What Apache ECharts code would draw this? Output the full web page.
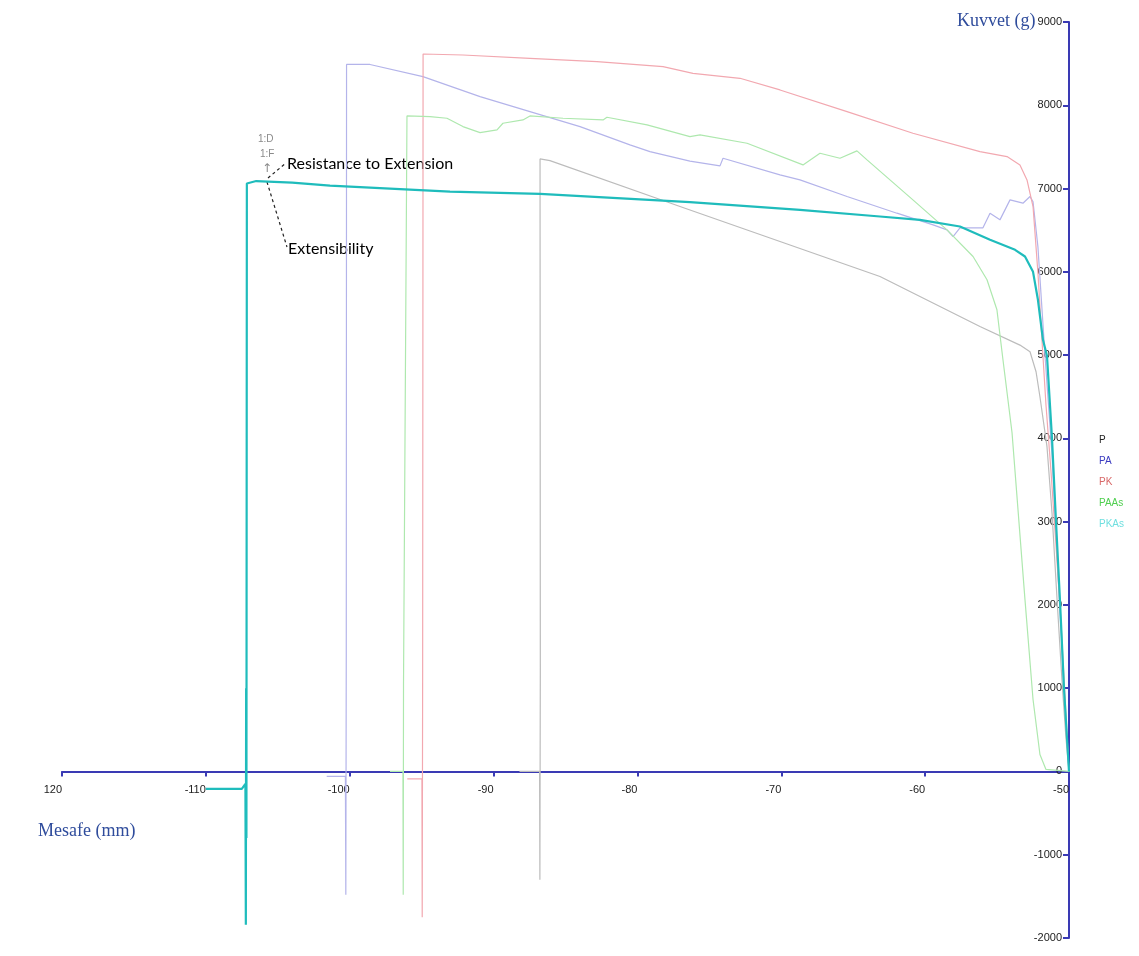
<!DOCTYPE html>
<html>
<head>
<meta charset="utf-8">
<script src="https://cdn.jsdelivr.net/npm/echarts@6/dist/echarts.min.js"></script>
<style>
html,body{margin:0;padding:0;background:#fff;}
#chart{width:1139px;height:956px;}
</style>
</head>
<body>
<div id="chart"></div>
<script>
// Tick labels as printed in the reference
var xTickLabels = ['120', '-110', '-100', '-90', '-80', '-70', '-60', '-50'];
var seriesNames = ['P', 'PA', 'PK', 'PAAs', 'PKAs'];

// P (gray)
var pX = [-88.2, -86.8, -86.78, -86.75, -86.77, -86.08, -77.04, -63.14, -56.19, -53.41, -52.71, -52.29, -52.02, -51.53, -51.18, -50.83, -50.49, -50.21, -50.0];
var pY = [0, 0, -1300, 1260, 7356, 7336, 6784, 5944, 5344, 5120, 5040, 4800, 4500, 3900, 3100, 2064, 1100, 400, 0];

// PA (blue)
var paX = [-101.6, -100.3, -100.27, -100.24, -100.22, -98.59, -94.91, -90.94, -87.47, -83.99, -80.52, -79.13, -76.35, -74.26, -74.05, -70.09, -68.70, -65.43, -61.96, -59.45, -58.48, -58.06, -57.58, -55.98, -55.49, -54.80, -54.10, -53.20, -52.71, -52.50, -52.16, -51.67, -51.18, -50.77, -50.35, -50.0];
var paY = [-60, -60, -1480, 1400, 8490, 8490, 8344, 8104, 7924, 7744, 7524, 7444, 7330, 7272, 7364, 7164, 7104, 6904, 6704, 6564, 6504, 6424, 6528, 6528, 6704, 6624, 6864, 6824, 6904, 6840, 6300, 5000, 3800, 2400, 1000, 0];

// PK (red)
var pkX = [-96.0, -94.98, -94.96, -94.93, -94.9, -92.13, -87.47, -82.81, -78.22, -76.14, -72.87, -70.09, -65.43, -60.85, -56.19, -54.31, -53.41, -52.92, -52.50, -52.16, -51.88, -51.60, -51.25, -50.90, -50.56, -50.28, -50.0];
var pkY = [-90, -90, -1750, 1200, 8616, 8604, 8564, 8524, 8464, 8384, 8324, 8184, 7924, 7664, 7444, 7384, 7284, 7104, 6784, 5988, 5184, 4400, 3600, 2700, 1800, 900, 0];

// PAAs (green)
var paasX = [-97.2, -96.3, -96.28, -96.26, -96.02, -94.42, -93.24, -92.13, -90.94, -89.76, -89.35, -87.96, -87.47, -85.17, -82.39, -82.12, -79.33, -76.35, -75.65, -72.38, -68.49, -67.31, -65.92, -64.74, -64.04, -60.85, -58.48, -56.67, -55.70, -55.01, -54.59, -53.96, -53.06, -52.50, -52.02, -51.60, -50.0];
var paasY = [0, 0, -1480, 1070, 7872, 7864, 7844, 7744, 7672, 7704, 7784, 7824, 7872, 7844, 7824, 7856, 7764, 7624, 7644, 7544, 7284, 7424, 7364, 7452, 7344, 6864, 6504, 6184, 5904, 5544, 4944, 4068, 2064, 864, 204, 24, 0];

// PKAs (teal)
var pkasX = [-110.0, -107.5, -107.25, -107.22, -107.2, -107.18, -107.15, -106.5, -104.0, -101.37, -93.03, -86.77, -76.35, -68.70, -63.14, -60.36, -57.58, -55.49, -53.75, -53.06, -52.50, -52.16, -51.81, -51.53, -51.18, -50.90, -50.63, -50.35, -50.0];
var pkasY = [-210, -210, -150, -1840, 1000, -800, 7060, 7090, 7070, 7036, 6964, 6936, 6836, 6744, 6664, 6624, 6544, 6384, 6264, 6184, 6000, 5664, 5184, 4992, 3996, 2988, 2064, 1008, 0];

var lineColors = ['#bcbcbc', '#b4b4ea', '#f2a8b0', '#aee8ae', '#1fbcbc'];
var legendColors = ['#222222', '#3b3bc0', '#d86868', '#4fcf4f', '#6fdfdf'];
var lineWidths = [1.2, 1.2, 1.2, 1.2, 2.2];

function zip(xs, ys) { return xs.map(function (x, i) { return [x, ys[i]]; }); }
var allData = [zip(pX, pY), zip(paX, paY), zip(pkX, pkY), zip(paasX, paasY), zip(pkasX, pkasY)];

var axisBlue = '#3a3ab4';
var gridTop = 22, gridBottom = 18, chartH = 956;
var yMin = -2000, yMax = 9000;
// distance from the grid bottom edge up to the zero line
var zeroOffset = (chartH - gridTop - gridBottom) * (0 - yMin) / (yMax - yMin);

var chart = echarts.init(document.getElementById('chart'));
chart.setOption({
  animation: false,
  backgroundColor: '#ffffff',
  grid: { left: 62, right: 70, top: gridTop, bottom: gridBottom },
  xAxis: {
    type: 'value', min: -120, max: -50, interval: 10,
    position: 'bottom', offset: -zeroOffset,
    axisLine: { onZero: false, lineStyle: { color: axisBlue, width: 2 } },
    axisTick: { show: true, length: 5, lineStyle: { color: axisBlue, width: 2 } },
    axisLabel: {
      margin: 13, align: 'right', color: '#222', fontFamily: 'Liberation Sans, Arial', fontSize: 11,
      formatter: function (v) { return xTickLabels[Math.round((v + 120) / 10)]; }
    },
    splitLine: { show: false }
  },
  yAxis: {
    type: 'value', position: 'right', min: yMin, max: yMax, interval: 1000,
    axisLine: { show: true, onZero: false, lineStyle: { color: axisBlue, width: 2 } },
    axisTick: { show: true, inside: true, length: 6, lineStyle: { color: axisBlue, width: 2 } },
    axisLabel: {
      inside: true, margin: 7, color: '#222', fontFamily: 'Liberation Sans, Arial', fontSize: 11,
      formatter: function (v) { return String(v); }
    },
    splitLine: { show: false }
  },
  legend: {
    orient: 'vertical', left: 1089, top: 429, itemGap: 9, itemWidth: 0, itemHeight: 12,
    icon: 'rect',
    itemStyle: { opacity: 0 }, lineStyle: { opacity: 0 },
    textStyle: { fontFamily: 'Liberation Sans, Arial', fontSize: 10 },
    data: seriesNames.map(function (n, i) { return { name: n, textStyle: { color: legendColors[i] } }; })
  },
  series: seriesNames.map(function (n, i) {
    return {
      name: n, type: 'line', data: allData[i], showSymbol: false, symbol: 'none',
      lineStyle: { color: lineColors[i], width: lineWidths[i] },
      itemStyle: { color: lineColors[i] },
      z: i === 4 ? 5 : 3
    };
  }),
  graphic: [
    { type: 'text', left: 957, top: 12, style: { text: 'Kuvvet (g)', font: '18px "Liberation Serif", serif', fill: '#2f4c9c' } },
    { type: 'text', left: 38, top: 822, style: { text: 'Mesafe (mm)', font: '18px "Liberation Serif", serif', fill: '#2f4c9c' } },
    { type: 'text', left: 258, top: 134, style: { text: '1:D', font: '10px "Liberation Sans", Arial', fill: '#8a8a8a' } },
    { type: 'text', left: 260, top: 149, style: { text: '1:F', font: '10px "Liberation Sans", Arial', fill: '#8a8a8a' } },
    { type: 'text', left: 262, top: 163, style: { text: '↑', font: '12px "DejaVu Sans"', fill: '#8a8a8a' } },
    { type: 'line', shape: { x1: 268, y1: 178, x2: 286, y2: 163 }, style: { stroke: '#222', lineWidth: 1.2, lineDash: [3, 3] } },
    { type: 'line', shape: { x1: 267, y1: 182, x2: 287, y2: 247 }, style: { stroke: '#222', lineWidth: 1.2, lineDash: [3, 3] } },
    { type: 'text', left: 287, top: 156, style: { text: 'Resistance to Extension', font: '16px Lato, "Open Sans", sans-serif', fill: '#000' } },
    { type: 'text', left: 288, top: 241, style: { text: 'Extensibility', font: '16px Lato, "Open Sans", sans-serif', fill: '#000' } }
  ]
});
</script>
</body>
</html>
